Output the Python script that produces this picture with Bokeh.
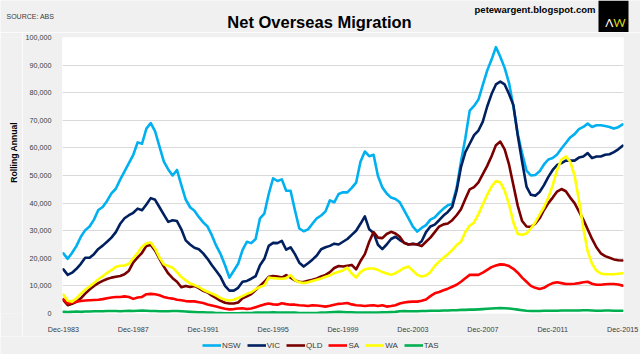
import numpy as np
from bokeh.plotting import figure
from bokeh.layouts import column, row
from bokeh.models import (ColumnDataSource, Range1d, FixedTicker, NumeralTickFormatter,
                          Legend, LegendItem)
from bokeh.core.properties import value
from bokeh.embed import file_html
from bokeh.resources import INLINE

# ---------------- data (rolling annual net overseas migration, thousands of persons) -------------
# quarterly observations, Dec-1983 ... Dec-2015 (129 quarters)
x_tick_labels = ["Dec-1983", "Dec-1987", "Dec-1991", "Dec-1995", "Dec-1999",
                 "Dec-2003", "Dec-2007", "Dec-2011", "Dec-2015"]

nsw = [21.8, 19.8, 22.0, 24.5, 27.8, 30.2, 31.5, 34.0, 37.5, 38.6,
       40.8, 43.5, 45.2, 48.5, 51.5, 54.5, 57.5, 62.0, 61.5, 67.0,
       69.0, 66.0, 60.5, 55.0, 52.2, 50.0, 52.0, 46.5, 41.3, 38.5,
       37.2, 35.0, 33.0, 31.5, 28.3, 24.5, 21.5, 17.5, 13.0, 15.5,
       18.0, 23.0, 26.0, 25.5, 27.0, 34.5, 36.2, 43.3, 49.0, 48.0,
       48.6, 44.5, 44.5, 37.4, 30.8, 29.8, 30.5, 32.5, 34.5, 35.5,
       37.0, 41.0, 40.3, 43.3, 43.9, 43.9, 45.5, 47.4, 55.0, 58.7,
       57.0, 57.5, 49.8, 45.7, 43.5, 42.0, 41.5, 40.3, 37.4, 34.5,
       31.5, 29.7, 31.0, 32.0, 34.0, 34.8, 36.5, 38.0, 39.2, 39.7,
       45.5, 55.0, 63.5, 73.5, 75.2, 77.5, 82.8, 88.0, 92.0, 96.5,
       93.0, 89.0, 83.5, 75.0, 65.0, 58.0, 51.8, 50.0, 50.2, 51.5,
       54.0, 55.8, 56.3, 57.6, 59.8, 61.8, 63.8, 65.0, 66.8, 67.6,
       68.8, 67.6, 68.2, 68.2, 67.9, 67.6, 67.0, 67.5, 68.5]

vic = [16.0, 14.0, 14.8, 16.2, 18.0, 20.2, 20.2, 21.5, 23.4, 24.6,
       26.0, 27.5, 29.5, 32.5, 34.5, 35.6, 36.5, 38.0, 37.4, 39.5,
       41.8, 41.2, 38.5, 35.8, 33.2, 33.8, 33.5, 30.5, 26.5, 25.0,
       23.8, 23.3, 21.8, 19.8, 17.5, 15.4, 13.2, 10.0, 8.3, 8.3,
       9.3, 11.5, 11.8, 12.6, 13.5, 17.5, 19.8, 24.5, 25.6, 25.5,
       26.3, 23.1, 24.0, 21.5, 18.4, 17.0, 18.2, 19.5, 21.0, 23.3,
       24.0, 24.5, 25.3, 25.0, 26.0, 27.0, 28.5, 30.0, 32.5, 35.2,
       30.5, 29.2, 24.9, 23.3, 25.0, 27.0, 27.8, 26.6, 25.7, 25.0,
       25.3, 25.0, 26.2, 29.5, 31.5, 32.2, 33.8, 35.5, 36.8, 38.6,
       44.5, 53.0, 58.5, 61.5, 64.6, 66.3, 69.5, 75.0, 79.5, 83.0,
       84.0, 83.0, 79.5, 75.5, 64.5, 55.0, 46.0, 43.0, 42.7, 44.0,
       46.5, 49.5, 52.0, 53.8, 54.5, 55.4, 55.4, 55.4, 56.5, 56.9,
       58.1, 56.3, 56.9, 56.9, 57.5, 57.7, 58.5, 59.5, 60.8]

qld = [4.8, 3.0, 3.5, 4.2, 5.5, 7.2, 8.7, 10.0, 11.0, 11.8,
       12.5, 13.0, 13.3, 13.6, 14.2, 15.5, 18.5, 20.3, 22.0, 24.5,
       24.8, 22.8, 19.8, 17.0, 14.5, 12.8, 11.5, 9.5, 10.0, 9.6,
       10.0, 9.2, 8.2, 7.6, 6.5, 5.6, 4.6, 3.9, 3.6, 3.6,
       4.0, 5.5, 6.2, 7.0, 8.5, 10.0, 11.5, 13.3, 13.6, 13.4,
       13.0, 13.9, 13.0, 12.0, 11.5, 11.4, 11.9, 12.2, 12.7, 13.4,
       14.0, 15.0, 16.5, 17.2, 17.0, 17.3, 17.6, 16.0, 19.0, 21.5,
       26.0, 29.5, 27.5, 27.3, 28.8, 29.6, 29.0, 27.8, 25.5, 25.0,
       25.2, 25.0, 24.4, 26.0, 27.5, 29.5, 31.5, 32.3, 32.6, 33.8,
       35.6, 37.8, 41.5, 45.0, 45.8, 47.5, 50.5, 53.5, 57.0, 61.0,
       62.3, 59.5, 54.0, 46.5, 39.0, 33.5, 31.5, 31.4, 32.5, 34.5,
       37.5, 40.0, 42.0, 44.2, 45.1, 44.3, 42.0, 40.0, 37.0, 34.0,
       30.5, 27.0, 24.0, 21.8, 20.8, 20.2, 19.6, 19.3, 19.2]

sa = [5.2, 3.6, 4.0, 4.3, 4.5, 4.7, 4.8, 4.9, 5.0, 5.2,
      5.5, 5.8, 6.0, 6.0, 6.2, 6.0, 5.3, 5.8, 6.0, 7.0,
      7.1, 7.0, 6.6, 6.0, 5.6, 5.4, 5.0, 4.8, 4.5, 4.4,
      4.4, 4.1, 3.8, 3.3, 2.9, 2.5, 2.1, 1.7, 1.5, 1.6,
      1.8, 1.9, 1.6, 1.8, 2.3, 2.8, 3.3, 3.6, 3.3, 3.2,
      3.7, 3.4, 3.2, 3.2, 3.0, 2.9, 2.7, 3.0, 2.9, 2.7,
      2.5, 2.8, 3.2, 3.5, 3.6, 3.8, 3.3, 3.0, 2.9, 2.7,
      2.9, 3.0, 2.7, 3.0, 2.5, 2.7, 3.0, 3.6, 4.0, 4.2,
      4.3, 4.3, 4.6, 5.1, 6.3, 7.3, 7.8, 8.4, 9.0, 9.7,
      10.4, 11.5, 12.8, 14.0, 14.0, 14.0, 14.8, 15.8, 16.8, 17.4,
      17.8, 17.7, 17.2, 16.2, 14.8, 13.0, 11.5, 10.0, 9.3, 8.9,
      9.3, 10.3, 11.0, 11.3, 11.0, 10.7, 10.7, 10.8, 11.0, 11.3,
      11.5, 10.8, 10.4, 10.4, 10.6, 10.7, 10.7, 10.5, 10.1]

wa = [6.8, 4.6, 4.3, 5.5, 7.2, 8.6, 9.8, 11.0, 12.4, 13.5,
      14.7, 15.7, 16.9, 17.3, 17.4, 18.0, 20.0, 22.0, 24.2, 25.4,
      25.7, 23.5, 20.3, 17.8, 17.2, 16.6, 15.0, 13.2, 12.0, 10.9,
      10.3, 9.6, 8.6, 7.9, 7.2, 6.5, 5.6, 5.0, 4.7, 5.0,
      5.6, 6.3, 7.1, 7.7, 8.8, 9.6, 10.2, 13.0, 12.8, 12.7,
      12.6, 12.8, 13.9, 12.1, 11.3, 11.0, 11.3, 11.8, 12.2, 12.7,
      13.3, 13.8, 14.6, 15.1, 15.6, 16.6, 14.5, 13.0, 15.0, 16.0,
      16.3, 16.3, 15.8, 15.0, 14.5, 14.0, 14.6, 15.5, 16.5, 17.0,
      15.5, 14.0, 13.4, 13.8, 15.0, 17.2, 18.8, 20.2, 21.5, 23.0,
      24.8, 26.0, 29.5, 31.8, 33.0, 36.0, 39.5, 43.0, 46.0, 48.0,
      47.5, 44.5, 39.5, 33.0, 28.8, 28.5, 29.0, 30.8, 33.0, 35.8,
      38.5, 42.0, 46.5, 52.0, 55.8, 56.9, 55.0, 50.0, 41.0, 31.0,
      22.5, 18.0, 15.5, 14.5, 14.2, 14.2, 14.2, 14.4, 14.6]

tas = [0.6, 0.5, 0.6, 0.7, 0.6, 0.7, 0.7, 0.8, 0.8, 0.8,
       0.9, 0.9, 0.9, 0.8, 0.9, 1.0, 0.9, 1.0, 1.1, 1.0,
       0.9, 0.9, 0.8, 0.8, 0.8, 0.9, 0.9, 0.8, 0.7, 0.6,
       0.5, 0.4, 0.4, 0.3, 0.3, 0.2, 0.2, 0.1, 0.1, 0.1,
       0.1, 0.2, 0.2, 0.2, 0.3, 0.3, 0.3, 0.3, 0.4, 0.3,
       0.3, 0.3, 0.3, 0.3, 0.2, 0.2, 0.2, 0.2, 0.2, 0.3,
       0.3, 0.4, 0.5, 0.6, 0.5, 0.4, 0.4, 0.3, 0.3, 0.3,
       0.3, 0.3, 0.3, 0.4, 0.4, 0.5, 0.6, 0.8, 0.9, 0.8,
       0.8, 0.8, 0.9, 0.9, 1.0, 1.0, 1.0, 1.1, 1.1, 1.2,
       1.2, 1.3, 1.3, 1.4, 1.4, 1.5, 1.6, 1.7, 1.8, 1.9,
       2.0, 1.9, 1.8, 1.6, 1.4, 1.2, 1.0, 0.9, 0.9, 0.9,
       1.0, 1.0, 1.0, 1.0, 1.1, 1.1, 1.1, 1.1, 1.1, 1.2,
       1.2, 1.1, 1.0, 1.0, 1.1, 1.1, 1.0, 1.0, 1.0]

series_names = ["NSW", "VIC", "QLD", "SA", "WA", "TAS"]
series_values = [nsw, vic, qld, sa, wa, tas]
series_colors = ["#00B0F0", "#002060", "#7A0000", "#FF0000", "#FFFF00", "#00B050"]

quarter_index = np.arange(len(nsw))
source = ColumnDataSource(dict(
    q=quarter_index,
    **{n: np.array(v) * 1000 for n, v in zip(series_names, series_values)}
))

# ---------------- layout (canvas pixels) ----------------
W, H = 640, 354
HEAD_H = 32          # header strip: title, source, site, logo
FOOT_H = 18          # footer strip: legend
STRIP_W = 22         # left strip: y-axis title
MAIN_H = H - HEAD_H - FOOT_H
BG = "#f0f0f0"
SANS = "Liberation Sans"
TXT = "#3a3a3a"


def blank(width, height, y_top):
    """Decoration panel whose data coords equal canvas pixels (y grows downward)."""
    f = figure(width=width, height=height, output_backend="svg", toolbar_location=None,
               x_range=Range1d(0, width), y_range=Range1d(y_top + height, y_top),
               min_border=0, x_axis_location=None, y_axis_location=None)
    f.grid.visible = False
    f.outline_line_color = None
    f.background_fill_color = BG
    f.border_fill_color = BG
    return f


# ---- header
head = blank(W, HEAD_H, 0)
head.text(x=[319], y=[21], text=["Net Overseas Migration"], text_align="center",
          text_baseline="alphabetic", text_font=value(SANS), text_font_size="16.5px",
          text_font_style="bold", text_color="#000000")
head.text(x=[6], y=[16], text=["SOURCE: ABS"], text_align="left",
          text_baseline="alphabetic", text_font=value(SANS), text_font_size="7px",
          text_color=TXT)
head.text(x=[534.5], y=[9], text=["petewargent.blogspot.com"], text_align="center",
          text_baseline="alphabetic", text_font=value(SANS), text_font_size="9.5px",
          text_font_style="bold", text_color="#000000")
head.quad(left=[598], right=[628], top=[0], bottom=[32], fill_color="#000000", line_color=None)
head.text(x=[612.8], y=[22], text=["Λ"], text_align="right", text_baseline="alphabetic",
          text_font=value("Lato"), text_font_size="12px", text_color="#ffffff")
head.text(x=[612.8], y=[22], text=["W"], text_align="left", text_baseline="alphabetic",
          text_font=value("Lato"), text_font_size="12px", text_color="#d6d61e")

# ---- left strip with the axis title
strip = blank(STRIP_W, MAIN_H, HEAD_H)
strip.text(x=[13.5], y=[158.5], text=["Rolling Annual"], angle=np.pi / 2,
           text_align="center", text_baseline="middle", text_font=value(SANS),
           text_font_size="8.6px", text_font_style="bold", text_color="#000000")

# ---- main chart: frame from x=57..623, y=37..318 in page pixels
FL, FR, FT, FB = 57, 623, 37, 318
p = figure(width=W - STRIP_W, height=MAIN_H, output_backend="svg", toolbar_location=None,
           x_range=Range1d(-0.2, 128.2), y_range=Range1d(0, 100000),
           min_border_left=FL - STRIP_W, min_border_right=W - FR,
           min_border_top=FT - HEAD_H, min_border_bottom=HEAD_H + MAIN_H - FB)
p.border_fill_color = BG
p.background_fill_color = "white"
p.outline_line_color = None
p.xgrid.visible = False
p.ygrid.grid_line_color = "#d9d9d9"
p.ygrid.grid_line_width = 1

p.yaxis.ticker = FixedTicker(ticks=list(range(0, 100001, 10000)))
p.yaxis.formatter = NumeralTickFormatter(format="0,0")
p.xaxis.ticker = FixedTicker(ticks=[16 * i for i in range(len(x_tick_labels))])
p.xaxis.major_label_overrides = {16 * i: lab for i, lab in enumerate(x_tick_labels)}
for ax in (p.xaxis[0], p.yaxis[0]):
    ax.axis_line_color = None
    ax.major_tick_line_color = None
    ax.minor_tick_line_color = None
    ax.major_label_text_font = SANS
    ax.major_label_text_font_size = "7.2px"
    ax.major_label_text_color = TXT
p.yaxis.major_label_standoff = 5
p.xaxis.major_label_standoff = 5

for n, c in zip(series_names, series_colors):
    p.line("q", n, source=source, line_color=c, line_width=2.6,
           line_join="round", line_cap="round")

# ---- footer with legend (legend swatches use off-screen proxy lines of the same style)
foot = blank(W, FOOT_H, HEAD_H + MAIN_H)
items = []
for n, c in zip(series_names, series_colors):
    r = foot.line(x=[-50, -40], y=[-50, -50], line_color=c, line_width=2.6)
    items.append(LegendItem(label=n, renderers=[r]))
legend = Legend(items=items, orientation="horizontal", location=(202, 3),
                label_text_font=SANS, label_text_font_size="8px", label_text_color=TXT,
                glyph_width=19, glyph_height=12, label_standoff=1, spacing=6,
                label_width=8, label_height=12, padding=0, margin=0,
                border_line_color=None, background_fill_alpha=0)
foot.add_layout(legend, "center")

layout = column(head, row(strip, p, spacing=0), foot, spacing=0)
open("out.html", "w").write(file_html(layout, INLINE))
